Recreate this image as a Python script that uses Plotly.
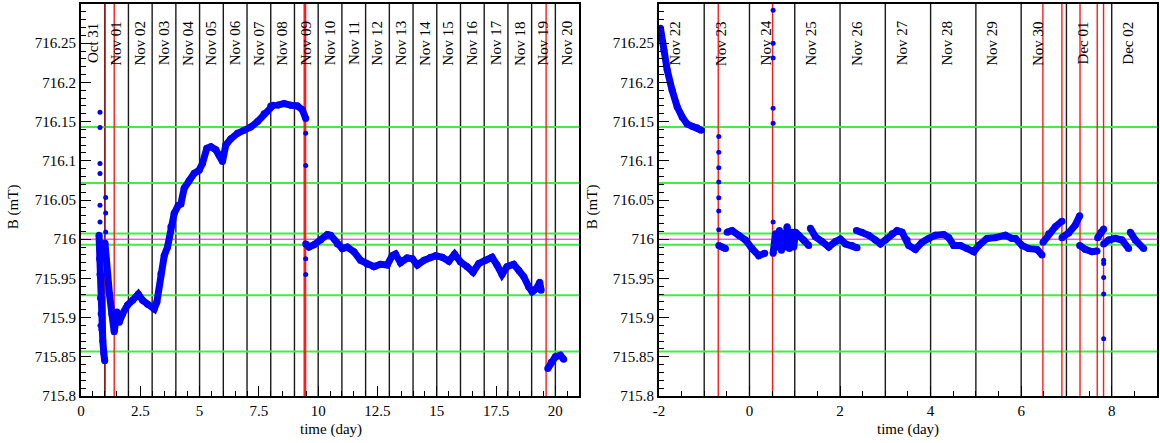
import plotly.graph_objects as go

# ---------------- data ----------------
# Left panel (days since Oct 31 00:00)
left_x = [0.76, 0.78, 0.80, 0.82, 0.85, 0.88, 0.92, 0.96, 1.00, None,
          1.01, 1.05, 1.10, 1.20, 1.30, 1.40, 1.516, 1.614, 1.754, 1.965, 2.175, 2.414, 2.596, 2.807,
          3.088, 3.20, 3.368, 3.509, 3.649, 3.789, 3.93, 4.098, 4.21, 4.351, 4.561, 4.772, 4.982,
          5.123, 5.305, 5.474, 5.684, 5.825, 5.965, 6.105, 6.316, 6.596, 6.877, 7.158, 7.439, 7.719,
          8.0, 8.112, None,
          8.281, 8.561, 8.842, 9.123, 9.333, 9.474, None,
          9.474, 9.614, 9.825, 10.105, 10.386, 10.526, 10.807, 11.017, 11.228, 11.509, 11.789, 12.07,
          12.35, 12.63, 12.91, 13.12, 13.26, 13.47, 13.75, 13.97, 14.18, 14.46, 14.74, 14.95, 15.23,
          15.51, 15.75, 16.0, 16.28, 16.53, 16.77, 17.05, 17.33, 17.54, 17.75, 17.96, 18.24, 18.46,
          18.67, 18.88, 19.02, 19.2, 19.34, 19.4, None,
          19.68, 19.82, 20.0, 20.21, 20.35]
left_b = [716.005, 715.975, 715.955, 715.925, 715.905, 715.885, 715.87, 715.855, 715.845, None,
          715.995, 715.975, 715.955, 715.93, 715.905, 715.882, 715.907, 715.894, 715.905, 715.916,
          715.922, 715.930, 715.922, 715.917,
          715.911, 715.920, 715.956, 715.979, 715.990, 716.016, 716.033, 716.043, 716.045, 716.065,
          716.075, 716.084, 716.088,
          716.097, 716.116, 716.118, 716.114, 716.107, 716.099, 716.120, 716.128, 716.135, 716.139,
          716.143, 716.150, 716.160,
          716.170, 716.171, None,
          716.171, 716.173, 716.171, 716.170, 716.165, 716.154, None,
          715.994, 715.990, 715.993, 715.999, 716.006, 716.005, 715.994, 715.988, 715.990, 715.984,
          715.973, 715.968,
          715.965, 715.968, 715.967, 715.979, 715.981, 715.970, 715.976, 715.975, 715.967, 715.973,
          715.977, 715.979, 715.977,
          715.972, 715.981, 715.971, 715.965, 715.958, 715.969, 715.973, 715.977, 715.967, 715.955,
          715.965, 715.968, 715.960,
          715.952, 715.939, 715.933, 715.937, 715.945, 715.935, None,
          715.835, 715.843, 715.850, 715.852, 715.847]
left_out_x = [0.8, 0.8, 0.8, 0.8, 0.8, 0.8, 0.8, 1.04, 1.04, 1.04, 9.474, 9.474, 9.474, 9.474]
left_out_b = [716.162, 716.1425, 716.0965, 716.0838, 716.0433, 716.022, 715.890,
              716.0531, 716.0335, 716.0093, 716.135, 716.094, 715.975, 715.955]

# Right panel (days since Nov 24 00:00)
right_x = [-1.965, -1.89, -1.818, -1.708, -1.597, -1.487, -1.377, -1.266, -1.156, -1.067, None,
           -0.678, -0.604, -0.53, None,
           -0.494, -0.383, -0.236, -0.089, 0.058, 0.205, 0.338, None,
           0.522, 0.573, 0.61, 0.662, 0.706, 0.757, 0.794, 0.831, 0.882, 0.941, 0.978, 1.015,
           1.088, 1.199, 1.309, None,
           1.346, 1.456, 1.603, 1.751, 1.898, 2.008, 2.119, 2.266, 2.376, None,
           2.362, 2.487, 2.634, 2.781, 2.891, 3.002, 3.149, 3.259, 3.37, 3.48, 3.517, 3.664, 3.811,
           3.958, 4.106, 4.29, 4.4, 4.51, 4.658, 4.805, 4.952, 5.062, 5.246, 5.43, 5.651, 5.798,
           5.872, 6.019, 6.166, 6.35, 6.46, None,
           6.483, 6.608, 6.755, 6.902, None,
           6.902, 7.049, 7.196, 7.292, None,
           7.292, 7.417, 7.564, 7.675, None,
           7.689, 7.763, 7.822, None,
           7.822, 7.932, 8.079, 8.226, 8.373, None,
           8.41, 8.52, 8.705]
right_b = [716.269, 716.241, 716.216, 716.190, 716.169, 716.156, 716.147, 716.144, 716.142, 716.139, None,
           715.992, 715.990, 715.988, None,
           716.009, 716.011, 716.005, 715.999, 715.988, 715.979, 715.982, None,
           715.982, 716.007, 715.990, 716.011, 715.986, 716.007, 715.990, 716.016, 715.988, 716.009,
           715.990, 716.009,
           716.005, 715.999, 715.992, None,
           716.014, 716.003, 715.997, 715.990, 715.997, 716.000, 715.994, 715.992, 715.989, None,
           716.011, 716.009, 716.005, 715.999, 715.994, 715.999, 716.007, 716.011, 716.009, 715.999,
           715.992, 715.987, 715.996,
           716.001, 716.005, 716.006, 716.002, 715.992, 715.992, 715.988, 715.984, 715.992, 716.001,
           716.002, 716.005, 716.001,
           716.001, 715.992, 715.988, 715.987, 715.980, None,
           715.996, 716.007, 716.016, 716.023, None,
           716.002, 716.008, 716.018, 716.030, None,
           715.992, 715.987, 715.984, 715.985, None,
           716.002, 716.009, 716.013, None,
           715.994, 715.999, 716.001, 715.999, 715.988, None,
           716.009, 715.999, 715.988]
right_out_x = [-0.678] * 7 + [0.522] * 6 + [7.822] * 5
right_out_b = [716.131, 716.111, 716.091, 716.073, 716.053, 716.036, 716.012,
               716.292, 716.250, 716.231, 716.167, 716.148, 716.022,
               715.973, 715.969, 715.951, 715.930, 715.873]

# Reference levels
nominal_b = 716.0
green_levels = [716.00716, 715.99284, 716.0716, 715.9284, 716.1432, 715.8568]

# Day boundaries and event markers
left_day_lines = list(range(1, 21))
right_day_lines = list(range(-1, 9))
left_red_lines = [1.02, 1.40, 9.41, 9.44, 9.47, 19.61]
right_red_lines = [-0.69, 0.51, 6.48, 6.90, 7.30, 7.68, 7.82]

left_day_labels = ["Oct 31", "Nov 01", "Nov 02", "Nov 03", "Nov 04", "Nov 05", "Nov 06",
                   "Nov 07", "Nov 08", "Nov 09", "Nov 10", "Nov 11", "Nov 12", "Nov 13",
                   "Nov 14", "Nov 15", "Nov 16", "Nov 17", "Nov 18", "Nov 19", "Nov 20"]
right_day_labels = ["Nov 22", "Nov 23", "Nov 24", "Nov 25", "Nov 26", "Nov 27", "Nov 28",
                    "Nov 29", "Nov 30", "Dec 01", "Dec 02"]

left_xticks = [0, 2.5, 5, 7.5, 10, 12.5, 15, 17.5, 20]
left_xtick_text = ["0", "2.5", "5", "7.5", "10", "12.5", "15", "17.5", "20"]
right_xticks = [-2, 0, 2, 4, 6, 8]
right_xtick_text = ["-2", "0", "2", "4", "6", "8"]
yticks = [715.8, 715.85, 715.9, 715.95, 716.0, 716.05, 716.1, 716.15, 716.2, 716.25]
ytick_text = ["715.8", "715.85", "715.9", "715.95", "716", "716.05", "716.1", "716.15", "716.2", "716.25"]

# ---------------- figure ----------------
FONT = "Liberation Serif, Times New Roman, serif"
BLUE = "#0000ff"

fig = go.Figure()

for xs, bs, xa, ya in [(left_x, left_b, "x", "y"), (right_x, right_b, "x2", "y2")]:
    fig.add_trace(go.Scatter(x=xs, y=bs, xaxis=xa, yaxis=ya, mode="lines+markers",
                             line=dict(color=BLUE, width=7), marker=dict(color=BLUE, size=7),
                             connectgaps=False, showlegend=False, hoverinfo="skip"))
for xs, bs, xa, ya in [(left_out_x, left_out_b, "x", "y"), (right_out_x, right_out_b, "x2", "y2")]:
    fig.add_trace(go.Scatter(x=xs, y=bs, xaxis=xa, yaxis=ya, mode="markers",
                             marker=dict(color=BLUE, size=5), showlegend=False, hoverinfo="skip"))

shapes = []
for xref, yref, days, reds in [("x", "y", left_day_lines, left_red_lines),
                               ("x2", "y2", right_day_lines, right_red_lines)]:
    for d in days:
        shapes.append(dict(type="line", layer="below", xref=xref, yref=yref + " domain",
                           x0=d, x1=d, y0=0, y1=1, line=dict(color="#1a1a1a", width=1.4)))
    for g in green_levels:
        shapes.append(dict(type="line", layer="below", xref=xref + " domain", yref=yref,
                           x0=0, x1=1, y0=g, y1=g, line=dict(color="#3fef3f", width=2)))
    shapes.append(dict(type="line", layer="below", xref=xref + " domain", yref=yref,
                       x0=0, x1=1, y0=nominal_b, y1=nominal_b, line=dict(color="#ff00ff", width=1)))
    for r in reds:
        shapes.append(dict(type="line", layer="below", xref=xref, yref=yref + " domain",
                           x0=r, x1=r, y0=0, y1=1, line=dict(color="#ff1a1a", width=1.4)))

annotations = []
for i, lab in enumerate(left_day_labels):
    annotations.append(dict(x=i + 0.5, y=716.25, xref="x", yref="y", text=lab, showarrow=False,
                            textangle=-90, xanchor="center", yanchor="middle",
                            font=dict(family=FONT, size=15, color="black")))
for i, lab in enumerate(right_day_labels):
    annotations.append(dict(x=i - 2 + 0.37, y=716.25, xref="x2", yref="y2", text=lab, showarrow=False,
                            textangle=-90, xanchor="center", yanchor="middle",
                            font=dict(family=FONT, size=15, color="black")))
# axis titles
for xp in [-0.0631, 0.475]:
    annotations.append(dict(x=xp, y=0.482, xref="paper", yref="paper", text="B (mT)", showarrow=False,
                            textangle=-90, xanchor="center", yanchor="middle",
                            font=dict(family=FONT, size=15, color="black")))
for xp in [0.2319, 0.7685]:
    annotations.append(dict(x=xp, y=-0.0867, xref="paper", yref="paper", text="time (day)",
                            showarrow=False, xanchor="center", yanchor="middle",
                            font=dict(family=FONT, size=15, color="black")))

axis_common = dict(showgrid=False, zeroline=False, showline=True, mirror=True, linecolor="black",
                   linewidth=2, ticks="inside", ticklen=10, tickwidth=1, tickcolor="black",
                   tickfont=dict(family=FONT, size=15, color="black"))

fig.update_layout(
    width=1160, height=443,
    margin=dict(l=81, r=1, t=4, b=47),
    paper_bgcolor="white", plot_bgcolor="white",
    shapes=shapes, annotations=annotations,
    xaxis=dict(domain=[0, 0.4629], range=[0, 21], anchor="y", tickmode="array",
               tickvals=left_xticks, ticktext=left_xtick_text,
               minor=dict(dtick=0.5, tick0=0, ticks="inside", ticklen=5, tickcolor="black", showgrid=False),
               **axis_common),
    yaxis=dict(domain=[0, 1], range=[715.8, 716.3], anchor="x", tickmode="array",
               tickvals=yticks, ticktext=ytick_text,
               minor=dict(dtick=0.01, tick0=715.8, ticks="inside", ticklen=5, tickcolor="black", showgrid=False),
               **axis_common),
    xaxis2=dict(domain=[0.5371, 1], range=[-2, 9], anchor="y2", tickmode="array",
                tickvals=right_xticks, ticktext=right_xtick_text,
                minor=dict(dtick=0.5, tick0=0, ticks="inside", ticklen=5, tickcolor="black", showgrid=False),
                **axis_common),
    yaxis2=dict(domain=[0, 1], range=[715.8, 716.3], anchor="x2", tickmode="array",
                tickvals=yticks, ticktext=ytick_text,
                minor=dict(dtick=0.01, tick0=715.8, ticks="inside", ticklen=5, tickcolor="black", showgrid=False),
                **axis_common),
)

fig.write_html("out.html")
